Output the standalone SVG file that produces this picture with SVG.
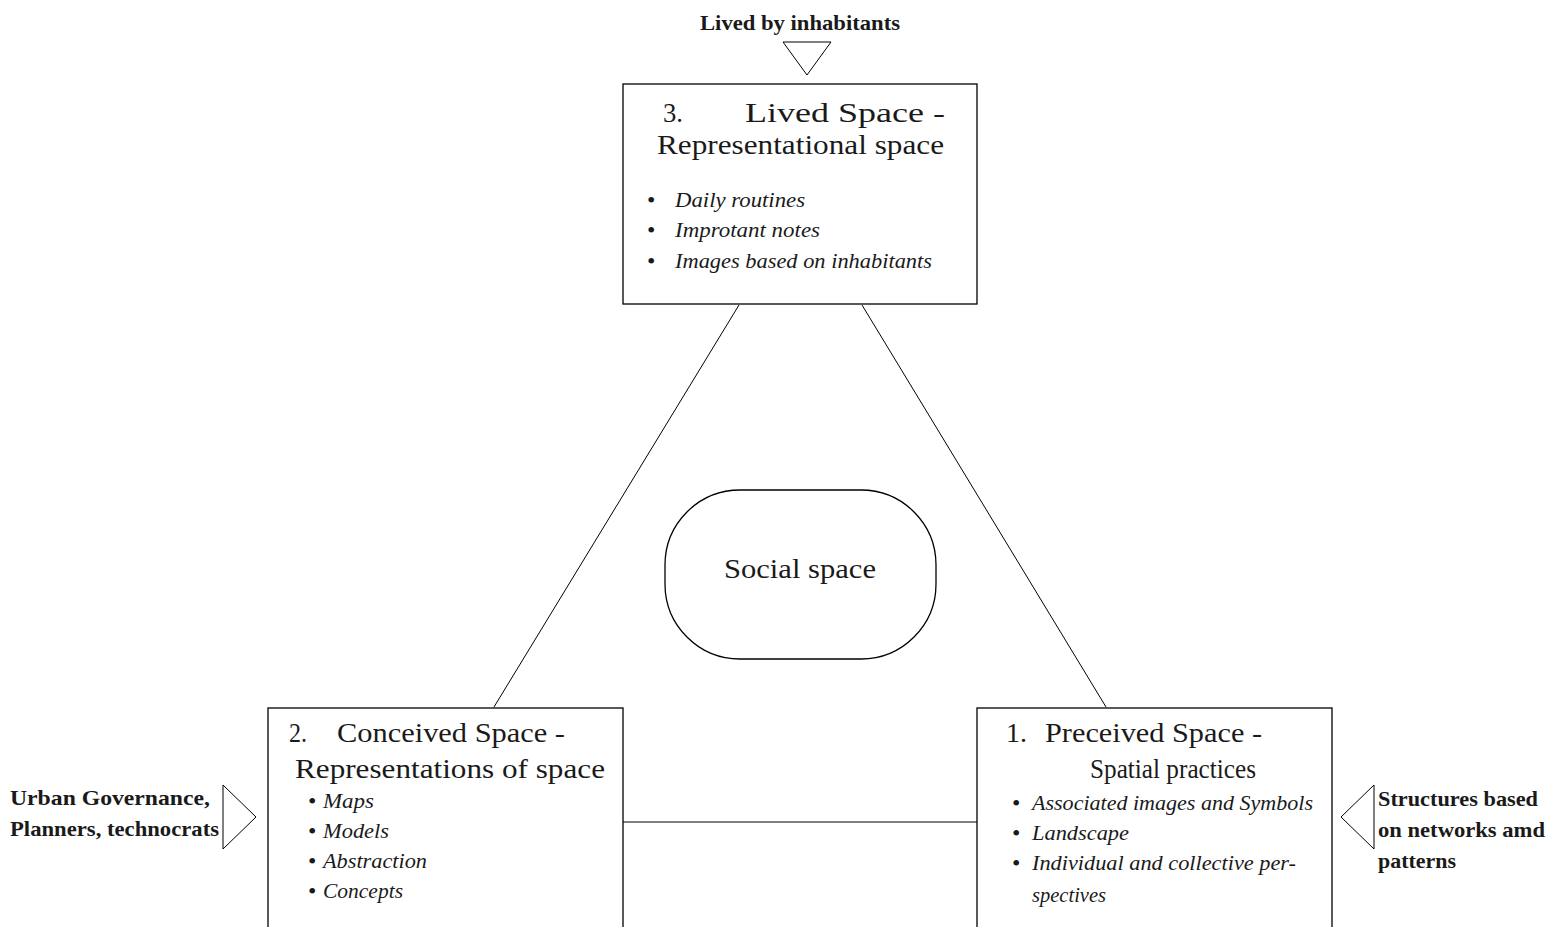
<svg xmlns="http://www.w3.org/2000/svg" width="1561" height="927" viewBox="0 0 1561 927">
<style>
.box{fill:#fff;stroke:#000;stroke-width:1.3}
.ln{fill:none;stroke:#000;stroke-width:1}
.tri{fill:#fff;stroke:#000;stroke-width:1}
.t{font-family:"Liberation Serif","DejaVu Serif",serif;fill:#1a1a1a}
.h{font-size:28px}
.b{font-size:21px;font-weight:bold}
.i{font-size:21px;font-style:italic}
.d{font-size:24px}
</style>
<rect width="1561" height="927" fill="#fff"/>
<g id="connectors">
<line class="ln" x1="739" y1="305" x2="494" y2="707"/>
<line class="ln" x1="862" y1="305" x2="1106" y2="707"/>
<line class="ln" x1="623" y1="822" x2="977" y2="822"/>
<polygon class="tri" points="783,42 831,42 807,75"/>
<polygon class="tri" points="223,785 223,849 256,817"/>
<polygon class="tri" points="1374,785 1374,849 1341,817"/>
</g>
<g id="lived-label">
<text class="t b" x="700" y="30" textLength="200" lengthAdjust="spacingAndGlyphs">Lived by inhabitants</text>
</g>
<g id="lived-space">
<rect class="box" x="623" y="84" width="354" height="220"/>
<text class="t h" x="663" y="122" textLength="20" lengthAdjust="spacingAndGlyphs">3.</text>
<text class="t h" x="745" y="122" textLength="200" lengthAdjust="spacingAndGlyphs">Lived Space -</text>
<text class="t h" x="657" y="154" textLength="287" lengthAdjust="spacingAndGlyphs">Representational space</text>
<text class="t d" x="647" y="208">•</text><text class="t i" x="675" y="207" textLength="130" lengthAdjust="spacingAndGlyphs">Daily routines</text>
<text class="t d" x="647" y="238">•</text><text class="t i" x="675" y="237" textLength="145" lengthAdjust="spacingAndGlyphs">Improtant notes</text>
<text class="t d" x="647" y="269">•</text><text class="t i" x="675" y="268" textLength="257" lengthAdjust="spacingAndGlyphs">Images based on inhabitants</text>
</g>
<g id="social-space">
<rect class="box" x="665" y="490" width="271" height="169" rx="75" ry="75"/>
<text class="t h" x="724" y="578" textLength="152" lengthAdjust="spacingAndGlyphs">Social space</text>
</g>
<g id="conceived-space">
<rect class="box" x="268" y="708" width="355" height="240"/>
<text class="t h" x="289" y="742" textLength="18" lengthAdjust="spacingAndGlyphs">2.</text>
<text class="t h" x="337" y="742" textLength="228" lengthAdjust="spacingAndGlyphs">Conceived Space -</text>
<text class="t h" x="295" y="778" textLength="310" lengthAdjust="spacingAndGlyphs">Representations of space</text>
<text class="t d" x="308" y="809">•</text><text class="t i" x="323" y="808" textLength="51" lengthAdjust="spacingAndGlyphs">Maps</text>
<text class="t d" x="308" y="839">•</text><text class="t i" x="323" y="838" textLength="66" lengthAdjust="spacingAndGlyphs">Models</text>
<text class="t d" x="308" y="869">•</text><text class="t i" x="323" y="868" textLength="104" lengthAdjust="spacingAndGlyphs">Abstraction</text>
<text class="t d" x="308" y="899">•</text><text class="t i" x="323" y="898" textLength="80" lengthAdjust="spacingAndGlyphs">Concepts</text>
</g>
<g id="perceived-space">
<rect class="box" x="977" y="708" width="355" height="240"/>
<text class="t h" x="1006" y="742" textLength="21" lengthAdjust="spacingAndGlyphs">1.</text>
<text class="t h" x="1045" y="742" textLength="217" lengthAdjust="spacingAndGlyphs">Preceived Space -</text>
<text class="t h" x="1090" y="778" textLength="166" lengthAdjust="spacingAndGlyphs">Spatial practices</text>
<text class="t d" x="1012" y="811">•</text><text class="t i" x="1032" y="810" textLength="281" lengthAdjust="spacingAndGlyphs">Associated images and Symbols</text>
<text class="t d" x="1012" y="841">•</text><text class="t i" x="1032" y="840" textLength="97" lengthAdjust="spacingAndGlyphs">Landscape</text>
<text class="t d" x="1012" y="871">•</text><text class="t i" x="1032" y="870" textLength="264" lengthAdjust="spacingAndGlyphs">Individual and collective per-</text>
<text class="t i" x="1032" y="902" textLength="74" lengthAdjust="spacingAndGlyphs">spectives</text>
</g>
<g id="urban-label">
<text class="t b" x="10" y="805" textLength="200" lengthAdjust="spacingAndGlyphs">Urban Governance,</text>
<text class="t b" x="10" y="836" textLength="209" lengthAdjust="spacingAndGlyphs">Planners, technocrats</text>
</g>
<g id="structures-label">
<text class="t b" x="1378" y="806" textLength="160" lengthAdjust="spacingAndGlyphs">Structures based</text>
<text class="t b" x="1378" y="837" textLength="167" lengthAdjust="spacingAndGlyphs">on networks amd</text>
<text class="t b" x="1378" y="868" textLength="78" lengthAdjust="spacingAndGlyphs">patterns</text>
</g>
</svg>
